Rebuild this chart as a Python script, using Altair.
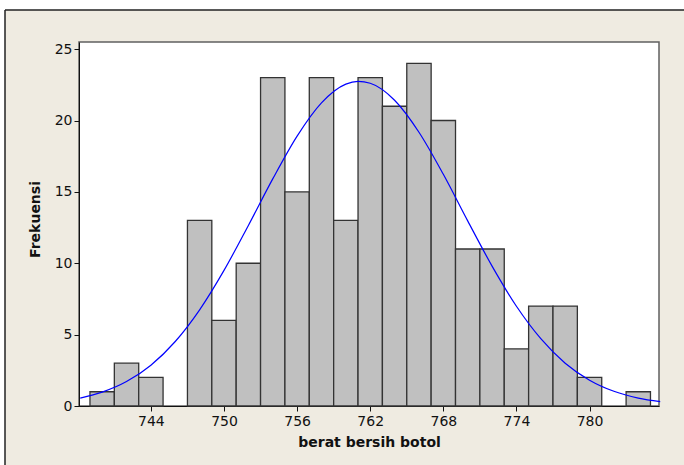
import altair as alt
import pandas as pd

# Histogram: bin centres (width 2) and frequencies
bin_centers = [740, 742, 744, 746, 748, 750, 752, 754, 756, 758, 760, 762,
               764, 766, 768, 770, 772, 774, 776, 778, 780, 782, 784]
counts = [1, 3, 2, 0, 13, 6, 10, 23, 15, 23, 13, 23,
          21, 24, 20, 11, 11, 4, 7, 7, 2, 0, 1]
bin_width = 2

# Fitted normal curve
curve_x = [738.2, 740, 742, 744, 746, 748, 750, 752, 754, 756, 758, 760, 761,
           762, 764, 766, 768, 770, 772, 774, 776, 778, 780, 782, 784, 785.8]
curve_y = [0.55, 0.97, 1.71, 2.86, 4.52, 6.74, 9.50, 12.65, 15.91, 18.91, 21.24,
           22.55, 22.74, 22.61, 21.42, 19.18, 16.23, 12.97, 9.80, 6.99, 4.72,
           3.00, 1.81, 1.03, 0.55, 0.30]

x_ticks = [744, 750, 756, 762, 768, 774, 780]
y_ticks = [0, 5, 10, 15, 20, 25]

bars = pd.DataFrame({
    "lo": [c - bin_width / 2 for c in bin_centers],
    "hi": [c + bin_width / 2 for c in bin_centers],
    "n": counts,
})
bars = bars[bars["n"] > 0]
curve = pd.DataFrame({"x": curve_x, "y": curve_y})

FONT = "DejaVu Sans"
xscale = alt.Scale(domain=[738.1, 785.7], nice=False, zero=False)
yscale = alt.Scale(domain=[0, 25.5], nice=False)

xaxis = alt.Axis(values=x_ticks, title="berat bersih botol", grid=False,
                 labelFont=FONT, labelFontSize=14, labelColor="#111",
                 titleFont=FONT, titleFontSize=14, titleFontWeight="bold",
                 titleColor="#111", tickSize=5, tickColor="#111", labelPadding=3,
                 domainColor="#111", titleBaseline="middle", titleY=36)
yaxis = alt.Axis(values=y_ticks, title="Frekuensi", grid=False,
                 labelFont=FONT, labelFontSize=14, labelColor="#111",
                 titleFont=FONT, titleFontSize=14, titleFontWeight="bold",
                 titleColor="#111", tickSize=5, tickColor="#111", labelPadding=2,
                 domainColor="#111", titleBaseline="middle", titleX=-44, titleY=177)

hist = alt.Chart(bars).mark_rect(fill="#C0C0C0", stroke="#333333", strokeWidth=1.3).encode(
    x=alt.X("lo:Q", scale=xscale, axis=xaxis),
    x2="hi:Q",
    y=alt.Y("n:Q", scale=yscale, axis=yaxis),
    y2=alt.datum(0),
)

line = alt.Chart(curve).mark_line(color="#0000FF", strokeWidth=1.2, interpolate="monotone").encode(
    x=alt.X("x:Q", scale=xscale),
    y=alt.Y("y:Q", scale=yscale),
)

# decorative outer frame (white margin strips + black frame line)
strip_top = alt.Chart().mark_rect(color="white").encode(
    x=alt.value(-79), x2=alt.value(606), y=alt.value(-42), y2=alt.value(-32))
strip_left = alt.Chart().mark_rect(color="white").encode(
    x=alt.value(-79), x2=alt.value(-74), y=alt.value(-42), y2=alt.value(424))
frame_top = alt.Chart().mark_rule(color="#222", strokeWidth=1.5).encode(
    x=alt.value(-74), x2=alt.value(606), y=alt.value(-32))
frame_left = alt.Chart().mark_rule(color="#222", strokeWidth=1.5).encode(
    x=alt.value(-74), y=alt.value(-32), y2=alt.value(424))

chart = alt.layer(strip_top, strip_left, frame_top, frame_left, hist, line).properties(
    width=580, height=364,
    background="#EFEBE1",
    padding={"left": 79, "top": 42, "right": 25, "bottom": 59},
    autosize=alt.AutoSizeParams(type="none"),
).configure_view(fill="white", stroke="#606060", strokeWidth=1.5)

chart.save("out.html", embed_options={"renderer": "svg", "actions": False})
